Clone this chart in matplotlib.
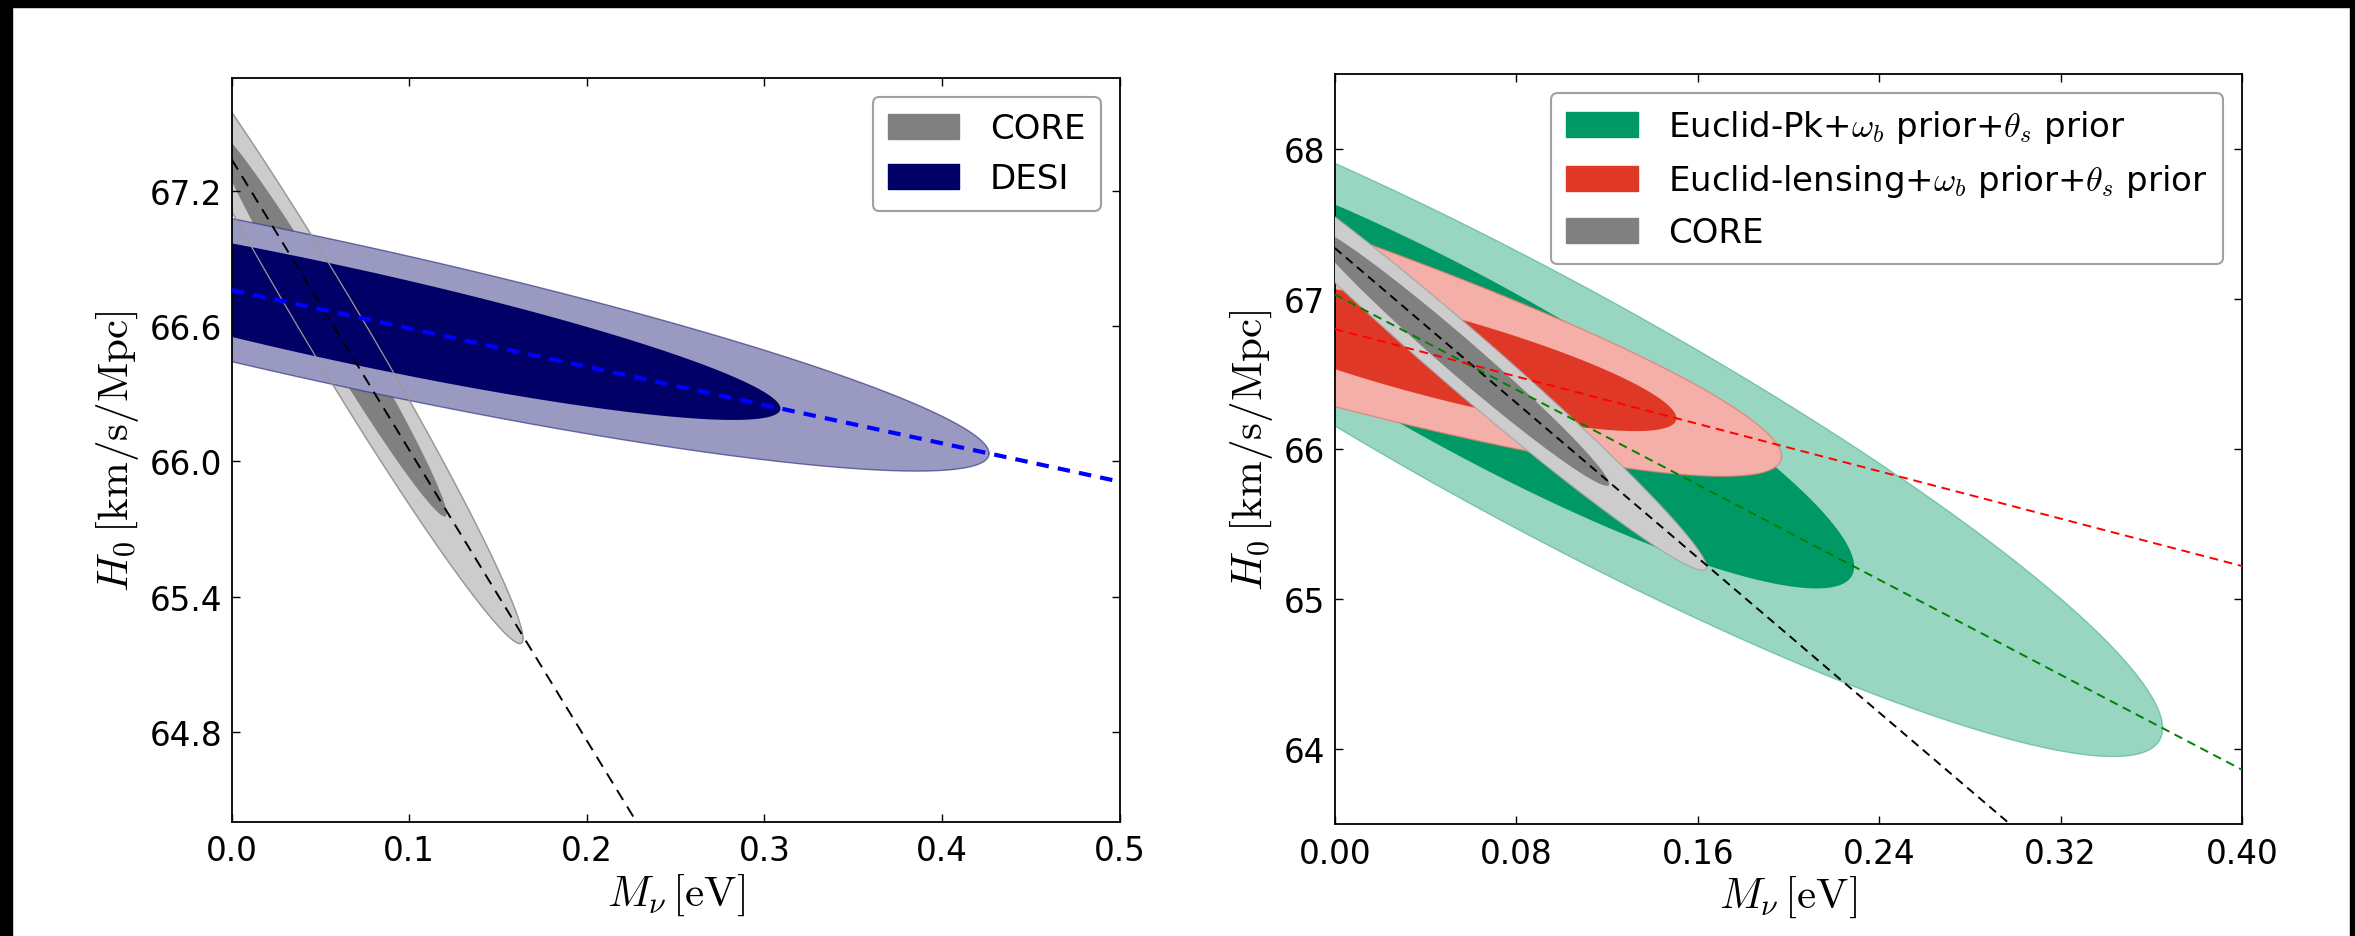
import numpy as np
import matplotlib
matplotlib.use('Agg')
import matplotlib.pyplot as plt
from matplotlib.patches import Rectangle, Patch

plt.rcParams['mathtext.fontset'] = 'cm'
plt.rcParams['font.family'] = ['DejaVu Sans']

# contour parameters: centre (x0, y0), half extent in M_nu (dx),
# conditional half width in H0 (dy), slope of the degeneracy (s)
# order in each list: [inner, outer]
core_x0 = [0.055, 0.055]
core_y0 = [66.62, 66.62]
core_dx = [0.066, 0.109]
core_dy = [0.1538, 0.2548]
core_s = [-12.9, -12.9]

desi_x0 = [0.06, 0.06]
desi_y0 = [66.658, 66.658]
desi_dx = [0.249, 0.3665]
desi_dy = [0.2138, 0.3218]
desi_s = [-1.70, -1.70]

pk_x0 = [0.06, 0.09]
pk_y0 = [66.555, 66.317]
pk_dx = [0.169, 0.275]
pk_dy = [0.642, 0.926]
pk_s = [-7.92, -7.92]

lens_x0 = [0.04, -0.1]
lens_y0 = [66.642, 67.33]
lens_dx = [0.1106, 0.297]
lens_dy = [0.2864, 0.619]
lens_s = [-3.95, -4.645]

# degeneracy lines: intercept at M_nu = 0 and slope
core_line = [67.34, -12.9]
desi_line = [66.76, -1.70]
pk_line = [67.03, -7.92]
lens_line = [66.80, -3.95]

left_xticks = [0.0, 0.1, 0.2, 0.3, 0.4, 0.5]
left_yticks = [64.8, 65.4, 66.0, 66.6, 67.2]
right_xticks = [0.00, 0.08, 0.16, 0.24, 0.32, 0.40]
right_yticks = [64, 65, 66, 67, 68]

labels_left = ['CORE', 'DESI']
labels_right = [r'Euclid-Pk+$\omega_b$ prior+$\theta_s$ prior',
                r'Euclid-lensing+$\omega_b$ prior+$\theta_s$ prior',
                'CORE']

gray = '#808080'
gray_l = '#cccccc'
navy = '#000066'
navy_l = '#9999c2'
green = '#009966'
green_l = '#99d6c2'
red = '#e03826'
red_l = '#f3afa8'


def ellipse(x0, y0, dx, dy, s):
    t = np.linspace(0, 2*np.pi, 500)
    x = x0 + dx*np.cos(t)
    y = y0 + s*dx*np.cos(t) + dy*np.sin(t)
    return x, y


def draw(ax, x0, y0, dx, dy, s, c_in, c_out, edge, z):
    xo, yo = ellipse(x0[1], y0[1], dx[1], dy[1], s[1])
    xi, yi = ellipse(x0[0], y0[0], dx[0], dy[0], s[0])
    ax.fill(xo, yo, color=c_out, lw=0, zorder=z)
    ax.plot(xo, yo, color=edge, lw=1.0, alpha=0.7, zorder=z+0.1)
    ax.fill(xi, yi, color=c_in, lw=0, zorder=z+0.2)
    return xo, yo


def style(ax):
    ax.tick_params(direction='in', top=True, right=True, length=6,
                   width=1, labelsize=23.5)
    ax.tick_params(axis='x', pad=9)
    ax.tick_params(axis='y', pad=7)
    for sp in ax.spines.values():
        sp.set_linewidth(1.3)


def legend(ax, handles, labels):
    leg = ax.legend(handles, labels, loc='upper right', fontsize=24.5, fancybox=True,
                    handlelength=2.1, handleheight=0.75, labelspacing=0.5,
                    borderaxespad=0.55, handletextpad=0.9, borderpad=0.45)
    leg.get_frame().set_edgecolor('#888888')
    leg.get_frame().set_linewidth(1.5)


fig = plt.figure(figsize=(23.55, 9.37), dpi=100)
ax1 = fig.add_axes([0.0984, 0.1219, 0.3770, 0.7934])
ax2 = fig.add_axes([0.5668, 0.1195, 0.3852, 0.8004])

# ---- left panel
xc, yc = draw(ax1, core_x0, core_y0, core_dx, core_dy, core_s, gray, gray_l, '#a0a0a0', 1)
draw(ax1, desi_x0, desi_y0, desi_dx, desi_dy, desi_s, navy, navy_l, '#3a3a85', 2)
ax1.plot(xc, yc, color='#999999', lw=0.9, zorder=2.5)

xx = np.array([0.0, 0.5])
ax1.plot(xx, core_line[0] + core_line[1]*xx, 'k--', lw=1.4, dashes=(6, 4), zorder=3)
ax1.plot(xx, desi_line[0] + desi_line[1]*xx, '--', color='b', lw=3, dashes=(3, 2.2), zorder=3)

ax1.set_xlim(0, 0.5)
ax1.set_ylim(64.4, 67.7)
ax1.set_xticks(left_xticks)
ax1.set_xticklabels(['%.1f' % v for v in left_xticks])
ax1.set_yticks(left_yticks)
ax1.set_yticklabels(['%.1f' % v for v in left_yticks])
style(ax1)
ax1.set_xlabel(r'$M_\nu\,[\mathrm{eV}]$', fontsize=31, labelpad=3)
ax1.set_ylabel(r'$H_0\,[\mathrm{km/s/Mpc}]$', fontsize=31, labelpad=6)

legend(ax1, [Patch(facecolor=gray, edgecolor=gray), Patch(facecolor=navy, edgecolor=navy)],
       labels_left)

# ---- right panel
draw(ax2, pk_x0, pk_y0, pk_dx, pk_dy, pk_s, green, green_l, '#55b893', 1)
draw(ax2, lens_x0, lens_y0, lens_dx, lens_dy, lens_s, red, red_l, '#e07a6e', 2)
draw(ax2, core_x0, core_y0, core_dx, core_dy, core_s, gray, gray_l, '#a0a0a0', 3)

xx = np.array([0.0, 0.4])
ax2.plot(xx, core_line[0] + core_line[1]*xx, 'k--', lw=1.4, dashes=(4.5, 3), zorder=4)
ax2.plot(xx, pk_line[0] + pk_line[1]*xx, '--', color='g', lw=1.4, dashes=(4.5, 3), zorder=4)
ax2.plot(xx, lens_line[0] + lens_line[1]*xx, '--', color='r', lw=1.4, dashes=(4.5, 3), zorder=4)

ax2.set_xlim(0, 0.4)
ax2.set_ylim(63.5, 68.5)
ax2.set_xticks(right_xticks)
ax2.set_xticklabels(['%.2f' % v for v in right_xticks])
ax2.set_yticks(right_yticks)
style(ax2)
ax2.set_xlabel(r'$M_\nu\,[\mathrm{eV}]$', fontsize=31, labelpad=3)
ax2.set_ylabel(r'$H_0\,[\mathrm{km/s/Mpc}]$', fontsize=31, labelpad=6)

legend(ax2, [Patch(facecolor=green, edgecolor=green), Patch(facecolor=red, edgecolor=red),
             Patch(facecolor=gray, edgecolor=gray)], labels_right)

# black frame of the original screenshot
W, H = 2355.0, 937.0
fig.patches.append(Rectangle((0, 1 - 8/H), 1, 8/H, transform=fig.transFigure, color='k', zorder=10))
fig.patches.append(Rectangle((0, 0), 12/W, 1, transform=fig.transFigure, color='k', zorder=10))
fig.patches.append(Rectangle((1 - 5/W, 0), 5/W, 1, transform=fig.transFigure, color='k', zorder=10))

fig.savefig('out.png', dpi=100, facecolor='white')
